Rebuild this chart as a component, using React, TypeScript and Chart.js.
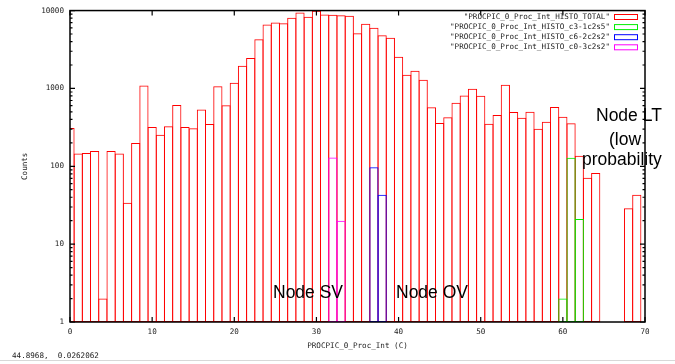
import React, { useEffect, useRef } from 'react';
import { Chart, registerables } from 'chart.js';

Chart.register(...registerables);

// ---- data ----
const totalBins = [
  0, 1, 2, 3, 4, 5, 6, 7, 8, 9,
  10, 11, 12, 13, 14, 15, 16, 17, 18, 19,
  20, 21, 22, 23, 24, 25, 26, 27, 28, 29,
  30, 31, 32, 33, 34, 35, 36, 37, 38, 39,
  40, 41, 42, 43, 44, 45, 46, 47, 48, 49,
  50, 51, 52, 53, 54, 55, 56, 57, 58, 59,
  60, 61, 62, 63, 64, 68, 69,
];
const totalCounts = [
  310, 146, 148, 157, 2, 157, 146, 34, 199, 1090,
  319, 255, 326, 611, 319, 307, 538, 349, 1070, 606,
  1180, 1950, 2450, 4290, 6620, 7020, 6880, 8060, 9430, 8300,
  9910, 8900, 8810, 8700, 8550, 5110, 6750, 6000, 4820, 4470,
  2550, 1500, 1690, 1290, 571, 359, 425, 656, 813, 991,
  806, 352, 455, 1115, 497, 421, 502, 304, 374, 576,
  433, 356, 137, 71, 82, 29, 43,
];
const c3Bins = [60, 61, 62];
const c3Counts = [2, 129, 21];
const c6Bins = [37, 38];
const c6Counts = [97, 43];
const c0Bins = [32, 33];
const c0Counts = [130, 20];

const seriesLabels = [
  '"PROCPIC_0_Proc_Int_HISTO_TOTAL"',
  '"PROCPIC_0_Proc_Int_HISTO_c3-1c2s5"',
  '"PROCPIC_0_Proc_Int_HISTO_c6-2c2s2"',
  '"PROCPIC_0_Proc_Int_HISTO_c0-3c2s2"',
];
const seriesColors = ['#ff0000', '#00ee00', '#0000ff', '#ff00ff'];

const yMajorTicks = [1, 10, 100, 1000, 10000];
const yMinorMultipliers = [2, 3, 4, 5, 6, 7, 8, 9];
const xMajorTicks = [0, 10, 20, 30, 40, 50, 60, 70];
const xTitle = 'PROCPIC_0_Proc_Int (C)';
const yTitle = 'Counts';
const noteTexts = ['Node SV', 'Node OV', 'Node LT', '(low', 'probability'];
const statusText = '44.8968,  0.0262062';

const MONO = '"DejaVu Sans Mono", monospace';
const SANS = '"Liberation Sans", Arial, sans-serif';

const pts = (xs: number[], ys: number[]) => xs.map((x, i) => ({ x, y: ys[i] }));

const decorPlugin = {
  id: 'decor',
  afterDraw(chart: any) {
    const { ctx, chartArea: a, scales } = chart;
    const xs = scales.x;
    const ys = scales.y;
    ctx.save();
    // frame
    ctx.strokeStyle = '#000';
    ctx.lineWidth = 1.5;
    ctx.strokeRect(a.left, a.top, a.right - a.left, a.bottom - a.top);
    // y ticks (inward, both sides)
    ctx.lineWidth = 1.2;
    ctx.beginPath();
    yMajorTicks.forEach((v, di) => {
      const py = ys.getPixelForValue(v);
      ctx.moveTo(a.left, py); ctx.lineTo(a.left + 5, py);
      ctx.moveTo(a.right, py); ctx.lineTo(a.right - 5, py);
      if (di < yMajorTicks.length - 1) {
        yMinorMultipliers.forEach((m) => {
          const pm = ys.getPixelForValue(v * m);
          ctx.moveTo(a.left, pm); ctx.lineTo(a.left + 2.5, pm);
          ctx.moveTo(a.right, pm); ctx.lineTo(a.right - 2.5, pm);
        });
      }
    });
    xMajorTicks.forEach((v) => {
      const px = xs.getPixelForValue(v);
      ctx.moveTo(px, a.bottom); ctx.lineTo(px, a.bottom - 5);
      ctx.moveTo(px, a.top); ctx.lineTo(px, a.top + 5);
    });
    ctx.stroke();

    // legend (top right, inside)
    ctx.font = `7.6px ${MONO}`;
    ctx.textAlign = 'right';
    ctx.textBaseline = 'middle';
    seriesLabels.forEach((lab, i) => {
      const cy = 17 + i * 10.1;
      ctx.fillStyle = '#222';
      ctx.fillText(lab, 610, cy);
      ctx.strokeStyle = seriesColors[i];
      ctx.lineWidth = 1;
      ctx.strokeRect(614.5, cy - 2.5, 23, 5);
    });

    // annotations
    ctx.fillStyle = '#000';
    ctx.font = `17.5px ${SANS}`;
    ctx.textAlign = 'left';
    ctx.textBaseline = 'alphabetic';
    ctx.fillText(noteTexts[0], 273, 297.5);
    ctx.fillText(noteTexts[1], 396, 297.5);
    ctx.fillText(noteTexts[2], 596, 121);
    ctx.fillText(noteTexts[3], 609, 144.5);
    ctx.fillText(noteTexts[4], 582, 165);

    // status line
    ctx.font = `7.6px ${MONO}`;
    ctx.fillStyle = '#222';
    ctx.textBaseline = 'middle';
    ctx.fillText(statusText, 12, 356);
    ctx.strokeStyle = '#d8d8d8';
    ctx.lineWidth = 1;
    ctx.beginPath();
    ctx.moveTo(0, 360.5); ctx.lineTo(675, 360.5);
    ctx.stroke();
    ctx.restore();
  },
};

export default function App() {
  const ref = useRef<HTMLCanvasElement>(null);
  useEffect(() => {
    if (!ref.current) return;
    const sets = [
      [totalBins, totalCounts],
      [c3Bins, c3Counts],
      [c6Bins, c6Counts],
      [c0Bins, c0Counts],
    ];
    const chart = new Chart(ref.current, {
      type: 'bar',
      data: {
        datasets: sets.map(([b, c], i) => ({
          label: seriesLabels[i],
          data: pts(b as number[], c as number[]),
          borderColor: seriesColors[i],
          backgroundColor: 'rgba(0,0,0,0)',
          borderWidth: 1,
          borderSkipped: false,
          grouped: false,
          barPercentage: 1,
          categoryPercentage: 1.122,
          order: i === 0 ? 1 : 0,
          clip: { left: 0, top: 5, right: 0, bottom: 0 },
        })),
      } as any,
      options: {
        animation: false,
        responsive: false,
        events: [],
        layout: { padding: { top: 10, right: 30, left: 0, bottom: 0 } },
        plugins: { legend: { display: false }, tooltip: { enabled: false } },
        scales: {
          x: {
            type: 'linear',
            offset: false,
            min: 0,
            max: 70,
            afterFit: (s: any) => { s.height = 42; },
            grid: { display: false, drawTicks: false, offset: false },
            border: { display: false },
            ticks: {
              stepSize: 10,
              padding: 5,
              color: '#222',
              font: { family: MONO, size: 7.6 },
              maxRotation: 0,
            },
            title: {
              display: true,
              text: xTitle,
              color: '#222',
              font: { family: MONO, size: 7.6 },
              padding: { top: 0, bottom: 13.7 },
            },
          },
          y: {
            type: 'logarithmic',
            min: 1,
            max: 10000,
            afterFit: (s: any) => { s.width = 70; },
            grid: { display: false, drawTicks: false },
            border: { display: false },
            ticks: {
              autoSkip: false,
              padding: 6,
              color: '#222',
              font: { family: MONO, size: 7.6 },
              callback: (v: any) => (yMajorTicks.includes(Number(v)) ? String(v) : ''),
            },
            title: {
              display: true,
              text: yTitle,
              color: '#222',
              font: { family: MONO, size: 7.6 },
              padding: { top: 20, bottom: 0 },
            },
          },
        },
      } as any,
      plugins: [decorPlugin],
    });
    return () => chart.destroy();
  }, []);
  return (
    <div style={{ position: 'absolute', left: 0, top: 0, width: 675, height: 364, background: '#fff' }}>
      <canvas ref={ref} width={675} height={364} style={{ display: 'block' }} />
    </div>
  );
}
